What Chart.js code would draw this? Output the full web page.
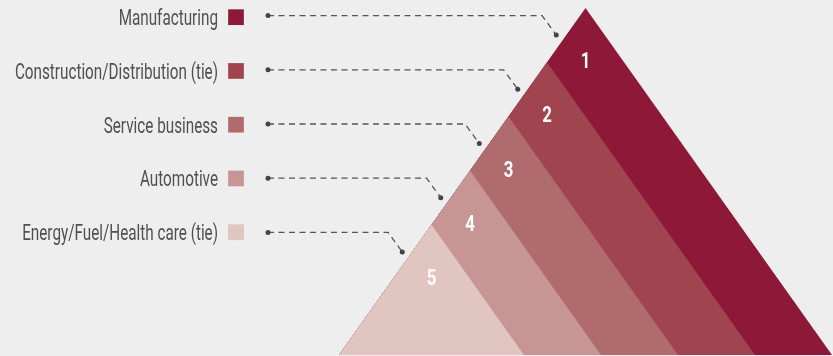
<!DOCTYPE html>
<html>
<head>
<meta charset="utf-8">
<script src="https://cdn.jsdelivr.net/npm/chart.js@4.4.1/dist/chart.umd.min.js"></script>
<style>
  html, body { margin: 0; padding: 0; background: #eeeeee; }
  #chart { display: block; }
</style>
</head>
<body>
<canvas id="chart" width="833" height="356"></canvas>
<script>
// industries ranked, top of the pyramid first
const industries = [
  "Manufacturing",
  "Construction/Distribution (tie)",
  "Service business",
  "Automotive",
  "Energy/Fuel/Health care (tie)",
];
const ranks = [1, 2, 3, 4, 5];
const bandColors = ["#8e1838", "#a0454f", "#b06c6d", "#c69594", "#e0c5c1"];

// pyramid layout (pixels == scale units)
const W = 833, H = 356;
const apex = { x: 585.5, y: 8 };
const baseY = 355, baseL = 339, baseR = 832;
const bandW = 77; // width of one band along the base
const slope = (baseR - apex.x) / (baseY - apex.y);

const leftX = (y) => apex.x - (y - apex.y) * slope;
// top of the sub triangle that starts at rank r
const topY = (r) => {
  const b = baseR - (r - 1) * bandW;
  return (apex.x + apex.y * slope + baseY * slope - b) / (2 * slope);
};
const bandStep = bandW / (2 * slope);

// 📐 one filled triangle per rank, the smaller ones stacked on top
const bandSets = ranks.map((r, i) => {
  const y0 = topY(r);
  return {
    data: [
      { x: leftX(y0), y: y0 },
      { x: baseR - (r - 1) * bandW, y: baseY },
      { x: baseL, y: baseY },
    ],
    showLine: true,
    fill: "shape",
    backgroundColor: bandColors[i],
    borderColor: "rgba(0,0,0,0)",
    borderWidth: 0,
    pointRadius: 0,
    order: 20 - r,
  };
});

// leader rows sit a little above the middle of each band
const rowY = ranks.map((r) => topY(r) + bandStep / 2 - 19.5);
// legend rows (squares + names)
const legendY = ranks.map((r, i) => 17.2 + i * 53.75);

// 🔗 dashed leader lines
const leaderSets = ranks.map((r, i) => {
  const ym = topY(r) + bandStep / 2;
  const ex = leftX(ym) - 10;
  return {
    data: [
      { x: 268, y: rowY[i] },
      { x: ex - 14.2, y: rowY[i] },
      { x: ex, y: ym },
    ],
    showLine: true,
    fill: false,
    borderColor: "#555555",
    borderWidth: 1.3,
    borderDash: [6, 4.5],
    pointRadius: [2.5, 0, 2.5],
    pointBackgroundColor: "#444444",
    pointBorderWidth: 0,
    order: 5,
  };
});

// legend squares
const squareSet = {
  data: ranks.map((r, i) => ({ x: 236, y: legendY[i] })),
  pointStyle: "rect",
  pointRadius: 11.1,
  pointBackgroundColor: bandColors,
  pointBorderWidth: 0,
  showLine: false,
  order: 4,
};

const textPlugin = {
  id: "pyramidText",
  afterDatasetsDraw(chart) {
    const { ctx, scales } = chart;
    const px = (v) => scales.x.getPixelForValue(v);
    const py = (v) => scales.y.getPixelForValue(v);

    // industry names
    ctx.save();
    ctx.fillStyle = "#505050";
    ctx.font = "21.5px Roboto, 'Liberation Sans', sans-serif";
    ctx.textAlign = "right";
    ctx.textBaseline = "alphabetic";
    industries.forEach((name, i) => {
      ctx.save();
      ctx.translate(px(218), py(legendY[i] + 8));
      ctx.scale(0.71, 1);
      ctx.fillText(name, 0, 0);
      ctx.restore();
    });
    ctx.restore();

    // rank numbers inside the bands
    ctx.save();
    ctx.fillStyle = "#ffffff";
    ctx.font = "bold 21.5px Roboto, 'Liberation Sans', sans-serif";
    ctx.textAlign = "center";
    ctx.textBaseline = "alphabetic";
    ranks.forEach((r) => {
      const y = topY(r) + bandStep - 1.5;
      ctx.save();
      ctx.translate(px(leftX(y) + 37.5), py(y + 7.5));
      ctx.scale(0.78, 1);
      ctx.fillText(String(r), 0, 0);
      ctx.restore();
    });
    ctx.restore();
  },
};

new Chart(document.getElementById("chart"), {
  type: "scatter",
  data: { datasets: [...bandSets, ...leaderSets, squareSet] },
  options: {
    responsive: false,
    animation: false,
    devicePixelRatio: 1,
    events: [],
    layout: { padding: 0, autoPadding: false },
    plugins: { legend: { display: false }, tooltip: { enabled: false } },
    scales: {
      x: { type: "linear", min: 0, max: W, display: false },
      y: { type: "linear", min: 0, max: H, reverse: true, display: false },
    },
  },
  plugins: [textPlugin],
});
</script>
</body>
</html>
